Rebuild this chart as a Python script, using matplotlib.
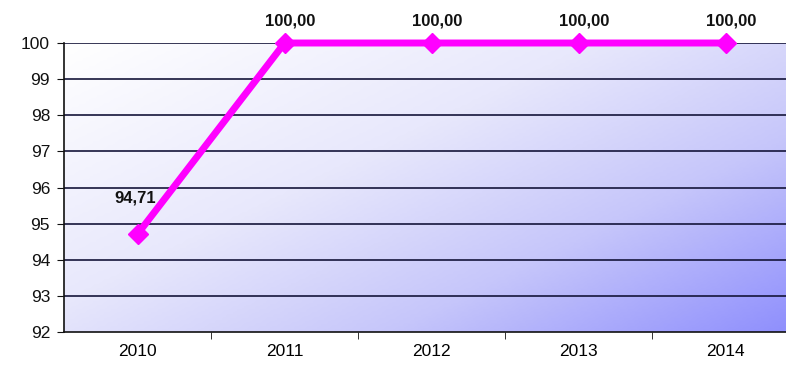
import numpy as np
import matplotlib.pyplot as plt
from matplotlib.colors import LinearSegmentedColormap

years = ['2010', '2011', '2012', '2013', '2014']
values = [94.71, 100.00, 100.00, 100.00, 100.00]
labels = ['94,71', '100,00', '100,00', '100,00', '100,00']

plt.rcParams['font.family'] = ['Liberation Sans', 'DejaVu Sans']

fig = plt.figure(figsize=(7.86, 3.65), dpi=100)
ax = fig.add_axes([64 / 786, 33 / 365, 722 / 786, 289 / 365])

x = np.arange(len(years))
xlim = (-0.5, 4.41)
ylim = (92, 100)

# diagonal gradient background: white top-left, blue bottom-right
gx, gy = np.meshgrid(np.linspace(0, 1, 200), np.linspace(0, 1, 100))
grad = gx * 0.55 + gy * 0.45
cmap = LinearSegmentedColormap.from_list(
    'bg', [(0, '#ffffff'), (0.4, '#e8e8fc'), (0.7, '#c6c6fa'), (1, '#9090fd')])
ax.imshow(grad, cmap=cmap, extent=(xlim[0], xlim[1], ylim[0], ylim[1]),
          origin='upper', aspect='auto', zorder=0)

for yv in range(93, 101):
    ax.axhline(yv, color='#15153a', lw=1.2, zorder=1)

ax.plot(x, values, color='#ff00ff', lw=5, marker='D', ms=10, zorder=3, clip_on=False)

for i, (v, lab) in enumerate(zip(values, labels)):
    if i == 0:
        off = (-2, 26)
    else:
        off = (4, 16)
    ax.annotate(lab, (x[i], v), xytext=off, textcoords='offset points',
                ha='center', va='center', fontsize=12, fontweight='bold', color='#111111')

ax.set_xlim(*xlim)
ax.set_ylim(*ylim)
ax.set_yticks(range(92, 101))
ax.tick_params(axis='y', labelsize=12.5, length=5, direction='out', pad=5, colors='#111111')
ax.set_xticks(x)
ax.set_xticklabels(years)
ax.set_xticks(np.arange(0.5, 4.5, 1), minor=True)
ax.tick_params(axis='x', which='major', length=0, labelsize=12.5, pad=9)
ax.tick_params(axis='x', which='minor', length=5, direction='out', color='#111111')

for s in ['top', 'right']:
    ax.spines[s].set_visible(False)
ax.spines['left'].set_color('#111111')
ax.spines['bottom'].set_color('#111111')
ax.spines['left'].set_linewidth(1.2)
ax.spines['bottom'].set_linewidth(1.2)

plt.savefig('out.png', dpi=100)
